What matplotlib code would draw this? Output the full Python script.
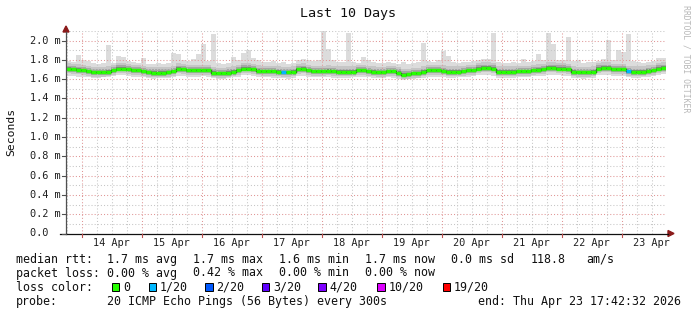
import numpy as np
import matplotlib
matplotlib.use("Agg")
import matplotlib.pyplot as plt
from matplotlib.patches import Polygon, Rectangle

# ---------------- data (2-hour bins, 10 days, ms) ----------------
title = "Last 10 Days"
day_labels = ["14 Apr", "15 Apr", "16 Apr", "17 Apr", "18 Apr",
              "19 Apr", "20 Apr", "21 Apr", "22 Apr", "23 Apr"]
first_midnight_h = 6.2911   # hours from start (Apr 13 17:42:32) to Apr 14 00:00
bin_hours = 2.0

median = [1.705, 1.70, 1.695, 1.69, 1.68, 1.67, 1.67, 1.67, 1.675, 1.69,
          1.71, 1.71, 1.70, 1.69, 1.69, 1.68, 1.67, 1.665, 1.665, 1.665,
          1.67, 1.68, 1.705, 1.70, 1.69, 1.69, 1.69, 1.69, 1.69, 1.665,
          1.66, 1.66, 1.665, 1.675, 1.69, 1.71, 1.71, 1.70, 1.685, 1.68,
          1.68, 1.68, 1.675, 1.67, 1.67, 1.675, 1.70, 1.705, 1.69, 1.68,
          1.68, 1.68, 1.685, 1.68, 1.675, 1.675, 1.675, 1.675, 1.69, 1.69,
          1.68, 1.675, 1.67, 1.67, 1.68, 1.68, 1.665, 1.645, 1.65, 1.66,
          1.66, 1.675, 1.69, 1.69, 1.69, 1.685, 1.675, 1.675, 1.675, 1.68,
          1.69, 1.69, 1.71, 1.715, 1.715, 1.71, 1.675, 1.675, 1.675, 1.675,
          1.68, 1.68, 1.68, 1.69, 1.695, 1.70, 1.715, 1.715, 1.71, 1.71,
          1.70, 1.675, 1.67, 1.67, 1.67, 1.675, 1.71, 1.715, 1.715, 1.70,
          1.70, 1.70, 1.68, 1.675, 1.675, 1.675, 1.685, 1.69, 1.71, 1.715]

smoke_max = [1.79, 1.78, 1.85, 1.80, 1.79, 1.77, 1.76, 1.77, 1.95, 1.77,
             1.835, 1.83, 1.79, 1.78, 1.77, 1.82, 1.76, 1.76, 1.77, 1.76,
             1.77, 1.87, 1.86, 1.80, 1.79, 1.81, 1.86, 1.96, 1.79, 2.07,
             1.77, 1.76, 1.77, 1.83, 1.80, 1.87, 1.905, 1.82, 1.80, 1.78,
             1.78, 1.79, 1.77, 1.78, 1.76, 1.77, 1.80, 1.81, 1.80, 1.79,
             1.80, 2.10, 1.915, 1.80, 1.78, 1.78, 2.08, 1.78, 1.77, 1.83,
             1.80, 1.78, 1.77, 1.77, 1.78, 1.77, 1.76, 1.78, 1.76, 1.77,
             1.78, 1.975, 1.79, 1.78, 1.80, 1.89, 1.84, 1.78, 1.77, 1.78,
             1.78, 1.79, 1.80, 1.81, 1.81, 2.08, 1.78, 1.77, 1.77, 1.78,
             1.77, 1.81, 1.78, 1.79, 1.86, 1.80, 2.08, 1.96, 1.80, 1.80,
             2.04, 1.79, 1.80, 1.77, 1.78, 1.78, 1.79, 1.81, 2.01, 1.80,
             1.905, 1.88, 2.07, 1.79, 1.78, 1.77, 1.78, 1.79, 1.82, 1.82]

smoke_min = [1.63, 1.63, 1.62, 1.62, 1.62, 1.61, 1.61, 1.62, 1.62, 1.63,
             1.64, 1.64, 1.63, 1.62, 1.62, 1.62, 1.61, 1.60, 1.61, 1.61,
             1.61, 1.62, 1.63, 1.63, 1.62, 1.62, 1.62, 1.63, 1.62, 1.61,
             1.60, 1.60, 1.61, 1.62, 1.62, 1.64, 1.64, 1.63, 1.62, 1.62,
             1.62, 1.61, 1.61, 1.61, 1.60, 1.61, 1.63, 1.63, 1.62, 1.62,
             1.62, 1.62, 1.62, 1.61, 1.61, 1.61, 1.61, 1.62, 1.62, 1.62,
             1.62, 1.61, 1.61, 1.61, 1.62, 1.61, 1.60, 1.59, 1.60, 1.60,
             1.61, 1.61, 1.62, 1.62, 1.62, 1.62, 1.61, 1.61, 1.62, 1.62,
             1.62, 1.63, 1.64, 1.64, 1.64, 1.63, 1.61, 1.61, 1.61, 1.61,
             1.62, 1.62, 1.62, 1.63, 1.63, 1.63, 1.64, 1.64, 1.64, 1.63,
             1.63, 1.61, 1.61, 1.60, 1.61, 1.61, 1.64, 1.64, 1.64, 1.63,
             1.63, 1.63, 1.62, 1.61, 1.61, 1.62, 1.62, 1.63, 1.64, 1.65]

loss = [0] * 120
loss[43] = 1
loss[112] = 1

legend_lines = [
    ("median rtt:", ["1.7 ms avg", "1.7 ms max", "1.6 ms min", "1.7 ms now",
                     "0.0 ms sd", "118.8", "am/s"]),
    ("packet loss:", ["0.00 % avg", "0.42 % max", "0.00 % min", "0.00 % now"]),
]
loss_labels = ["0", "1/20", "2/20", "3/20", "4/20", "10/20", "19/20"]
loss_colors = ["#26ff00", "#00b8ff", "#0059ff", "#5e00ff", "#7e00ff", "#dd00ff", "#ff0000"]
loss_level = {0: 0, 1: 1, 2: 2, 3: 3, 4: 4, 10: 5, 19: 6}
probe_text = "20 ICMP Echo Pings (56 Bytes) every 300s"
end_text = "end: Thu Apr 23 17:42:32 2026"

# ---------------- figure ----------------
W, H = 697, 315
MONO = "DejaVu Sans Mono"
fig = plt.figure(figsize=(W / 100, H / 100), dpi=100)
fig.patch.set_facecolor("white")

def fx(px):
    return px / W

def fy(py):
    return 1 - py / H

y0_px, ytop_px = 233.5, 30.9
ax = fig.add_axes([fx(66), fy(y0_px), 600 / W, (y0_px - ytop_px) / H])
ax.set_xlim(0, 240)
ax.set_ylim(0, 2.1)
ax.set_facecolor("white")
for s in ax.spines.values():
    s.set_visible(False)
ax.set_xticks([])
ax.set_yticks([])

n = len(median)
edges = np.arange(n + 1) * bin_hours
med = np.array(median)
mx = np.array(smoke_max)
mn = np.array(smoke_min)

def band(lo, hi, color, z):
    ax.fill_between(edges, np.append(lo, lo[-1]), np.append(hi, hi[-1]),
                    step="post", color=color, linewidth=0, zorder=z)

band(mn, mx, "#dcdcdc", 1)
band(med - 0.045, np.minimum(med + 0.06, mx), "#c6c6c6", 1.1)
band(med - 0.028, med + 0.035, "#a6a6a6", 1.2)
band(med - 0.014, med + 0.018, "#7e7e7e", 1.3)

# grid
red_grid = "#e09696"
gray_grid = "#c6c6c6"
dash = (0, (1, 2))
GLW = 0.75
for k in range(1, 22):
    v = k * 0.1
    ax.axhline(v, color=red_grid if k % 2 == 0 else gray_grid, lw=GLW,
               linestyle=dash, zorder=2)
h = first_midnight_h - 6
while h < 240:
    if h > 0:
        r = (h - first_midnight_h) / 24
        is_mid = abs(r - round(r)) < 1e-6
        ax.axvline(h, color=red_grid if is_mid else gray_grid, lw=GLW,
                   linestyle=dash, zorder=2)
    h += 6

# median line: dark step + loss-coloured horizontal pieces
ax.step(edges, np.append(med, med[-1]), where="post", color="#202020", lw=1.0, zorder=3)
for i in range(n):
    ax.hlines(med[i], edges[i], edges[i + 1],
              color=loss_colors[loss_level.get(loss[i], 6)], lw=2.5,
              zorder=4, capstyle="butt")

# axes lines and arrows (overlay in pixel coords)
ov = fig.add_axes([0, 0, 1, 1], facecolor="none")
ov.set_xlim(0, W)
ov.set_ylim(H, 0)
ov.axis("off")
ov.plot([66, 66], [y0_px, 32], color="#505050", lw=0.9)
ov.plot([60, 668], [y0_px, y0_px], color="#101010", lw=0.9)
ov.add_patch(Polygon([[63, 32], [69, 32], [66, 26]], closed=True, color="#8b1a1a"))
ov.add_patch(Polygon([[668, 230.5], [668, 236.5], [674, 233.5]], closed=True, color="#8b1a1a"))

# y tick labels & ticks
for k in range(0, 11):
    v = k * 0.2
    py = y0_px - v * (y0_px - ytop_px) / 2.1
    ov.plot([62, 66], [py, py], color="#505050", lw=0.8)
    lab = "0.0  " if k == 0 else f"{v:.1f} m"
    ov.text(60.5, py, lab, ha="right", va="center", fontsize=7.4,
            family=MONO, color="#202020")

# x tick labels & ticks
px_per_h = 600 / 240
for d, lab in enumerate(day_labels):
    mid_px = 66 + (first_midnight_h + 24 * d) * px_per_h
    ov.plot([mid_px, mid_px], [y0_px, y0_px + 3], color="#c05050", lw=0.8)
    ov.text(mid_px + 12 * px_per_h, 243.5, lab, ha="center", va="center",
            fontsize=7.4, family=MONO, color="#202020")

# title, axis label, watermark
ov.text(348.5, 13.5, title, ha="center", va="center", fontsize=9.6,
        family=MONO, color="#101010")
ov.text(11, 132, "Seconds", ha="center", va="center", rotation=90,
        fontsize=8.2, family=MONO, color="#101010")
ov.text(686, 59, "RRDTOOL / TOBI OETIKER", ha="center", va="center",
        rotation=270, fontsize=5.9, family=MONO, color="#b8b8b8")

# legend
LFS = 8.4
line_y = [259.3, 273.0, 287.3, 301.0]
xs_rtt = [107.3, 193.3, 279.3, 365.0, 450.7, 530.7, 586.7]
for (lbl, parts), ly in zip(legend_lines, line_y[:2]):
    ov.text(16, ly, lbl, ha="left", va="center", fontsize=LFS, family=MONO, color="#101010")
    for x, t in zip(xs_rtt, parts):
        ov.text(x, ly, t, ha="left", va="center", fontsize=LFS, family=MONO, color="#101010")

ov.text(16, line_y[2], "loss color:", ha="left", va="center", fontsize=LFS, family=MONO, color="#101010")
box_x = [111.5, 148.5, 205.0, 261.5, 318.0, 377.0, 442.5]
for bx, lab, col in zip(box_x, loss_labels, loss_colors):
    ov.add_patch(Rectangle((bx, line_y[2] - 4.5), 7.5, 8, facecolor=col,
                           edgecolor="black", lw=0.7))
    ov.text(bx + 11.5, line_y[2], lab, ha="left", va="center", fontsize=LFS,
            family=MONO, color="#101010")

ov.text(16, line_y[3], "probe:", ha="left", va="center", fontsize=LFS, family=MONO, color="#101010")
ov.text(107.3, line_y[3], probe_text, ha="left", va="center", fontsize=LFS, family=MONO, color="#101010")
ov.text(478.3, line_y[3], end_text, ha="left", va="center", fontsize=LFS, family=MONO, color="#101010")

fig.savefig("out.png", dpi=100, facecolor="white")
